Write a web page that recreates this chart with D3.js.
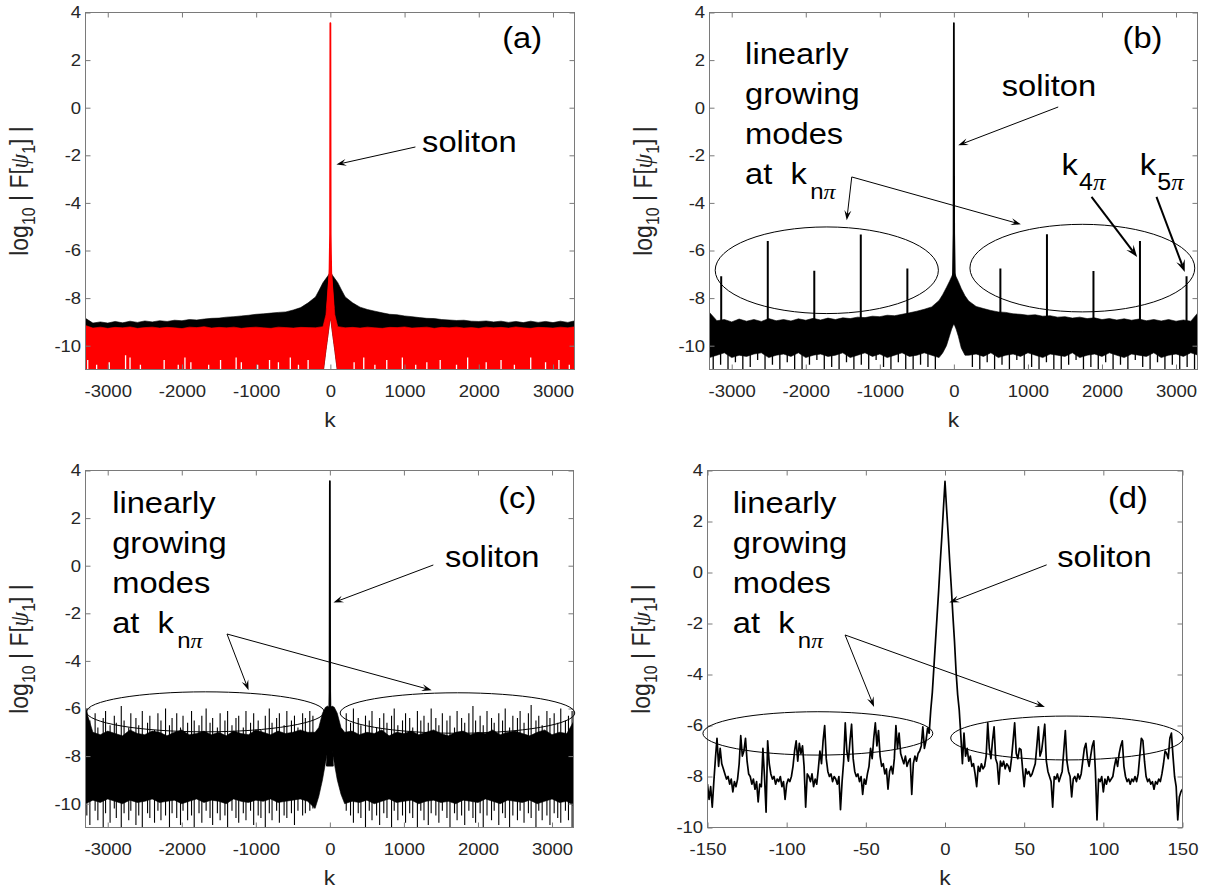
<!DOCTYPE html>
<html>
<head>
<meta charset="utf-8">
<script src="https://cdn.jsdelivr.net/npm/d3@7"></script>
<style>
  body { margin: 0; background: #fff; }
  svg { font-family: "Liberation Sans", Arial, sans-serif; }
</style>
</head>
<body>
<script>
// ---------- data ----------
// shared k sampling of the wide spectra (a)-(c)
const kGrid = [
  -3300,-3200,-3100,-3000,-2900,-2800,-2700,-2600,-2500,-2400,-2300,-2200,-2100,-2000,-1900,-1800,-1700,-1600,-1500,-1400,-1300,-1200,-1100,-1000,-900,-800,-700,-600,-500,-400,-300,
  -200,-150,-100,-60,-30,-10,0,10,30,60,100,150,200,
  300,400,500,600,700,800,900,1000,1100,1200,1300,1400,1500,1600,1700,1800,1900,2000,2100,2200,2300,2400,2500,2600,2700,2800,2900,3000,3100,3200,3300];
// positions halfway between grid samples (used for isolated noise spikes)
const midK = [
  -3250,-3150,-3050,-2950,-2850,-2750,-2650,-2550,-2450,-2350,-2250,-2150,-2050,-1950,-1850,-1750,-1650,-1550,-1450,-1350,-1250,-1150,-1050,-950,-850,-750,-650,-550,-450,-350,-250,
  250,350,450,550,650,750,850,950,1050,1150,1250,1350,1450,1550,1650,1750,1850,1950,2050,2150,2250,2350,2450,2550,2650,2750,2850,2950,3050,3150,3250];

// (a) black and red spectra (upper envelopes), common lower envelope, white gaps at the floor
const aBlackTop = [
  -8.85,-9.05,-9.0,-9.05,-8.98,-9.04,-8.97,-9.02,-8.96,-9.0,-8.95,-8.98,-8.93,-8.95,-8.9,-8.92,-8.88,-8.85,-8.84,-8.8,-8.78,-8.75,-8.72,-8.68,-8.66,-8.63,-8.6,-8.58,-8.5,-8.4,-8.2,
  -7.95,-7.66,-7.35,-7.18,-7.05,-6.95,-6.9,-6.95,-7.05,-7.18,-7.35,-7.66,-7.95,
  -8.2,-8.38,-8.48,-8.55,-8.62,-8.68,-8.7,-8.75,-8.78,-8.82,-8.85,-8.86,-8.9,-8.92,-8.94,-8.93,-8.97,-8.98,-8.96,-9.0,-8.97,-9.02,-8.98,-9.03,-8.97,-9.02,-8.98,-9.03,-8.97,-9.02,-8.95];
const aRedTop = [
  -9.15,-9.26,-9.22,-9.27,-9.23,-9.25,-9.21,-9.27,-9.24,-9.22,-9.26,-9.23,-9.25,-9.28,-9.22,-9.24,-9.2,-9.26,-9.23,-9.25,-9.22,-9.27,-9.24,-9.22,-9.25,-9.27,-9.22,-9.24,-9.26,-9.23,-9.24,
  -9.25,-9.22,-9.2,-8.7,-7.5,-6.7,-6.4,-6.7,-7.5,-8.7,-9.2,-9.22,-9.25,
  -9.23,-9.26,-9.22,-9.25,-9.27,-9.23,-9.24,-9.21,-9.26,-9.24,-9.22,-9.27,-9.23,-9.25,-9.22,-9.26,-9.24,-9.27,-9.22,-9.25,-9.23,-9.26,-9.21,-9.25,-9.27,-9.23,-9.24,-9.26,-9.22,-9.25,-9.2];
const aBottom = [
  -11.3,-11.3,-11.3,-11.3,-11.3,-11.3,-11.3,-11.3,-11.3,-11.3,-11.3,-11.3,-11.3,-11.3,-11.3,-11.3,-11.3,-11.3,-11.3,-11.3,-11.3,-11.3,-11.3,-11.3,-11.3,-11.3,-11.3,-11.3,-11.3,-11.3,-11.3,
  -11.3,-11.3,-11.2,-10.2,-9.5,-9.0,-8.86,-9.0,-9.5,-10.2,-11.2,-11.3,-11.3,
  -11.3,-11.3,-11.3,-11.3,-11.3,-11.3,-11.3,-11.3,-11.3,-11.3,-11.3,-11.3,-11.3,-11.3,-11.3,-11.3,-11.3,-11.3,-11.3,-11.3,-11.3,-11.3,-11.3,-11.3,-11.3,-11.3,-11.3,-11.3,-11.3,-11.3,-11.3];
const aGapK = [
  -3270,-3150,-2980,-2760,-2700,-2560,-2240,-2050,-1960,-1880,
  -1640,-1480,-1270,-1200,-980,-820,-700,-540,-430,-300,
  320,450,600,760,970,1150,1300,1480,1700,1850,
  2100,2300,2480,2700,2900,3080,3220];
const aGapTop = [
  -10.6,-10.8,-10.7,-10.4,-10.5,-10.8,-10.6,-10.8,-10.5,-10.7,
  -10.8,-10.6,-10.5,-10.7,-10.8,-10.6,-10.7,-10.5,-10.8,-10.6,
  -10.7,-10.5,-10.8,-10.6,-10.5,-10.8,-10.7,-10.6,-10.8,-10.5,
  -10.7,-10.6,-10.8,-10.5,-10.7,-10.6,-10.8];

// (b) spectrum envelopes, downward noise spikes and the isolated modes at k = n*pi*200
const bTop = [
  -8.6,-8.95,-8.9,-9.0,-8.88,-8.97,-8.9,-8.98,-8.86,-8.95,-8.9,-8.96,-8.87,-8.93,-8.85,-8.92,-8.84,-8.9,-8.83,-8.86,-8.8,-8.82,-8.76,-8.78,-8.72,-8.74,-8.68,-8.62,-8.55,-8.47,-8.37,
  -8.1,-7.85,-7.55,-7.3,-7.1,-6.95,-6.9,-6.95,-7.1,-7.3,-7.6,-7.9,-8.12,
  -8.35,-8.44,-8.52,-8.58,-8.6,-8.66,-8.68,-8.72,-8.7,-8.76,-8.74,-8.8,-8.78,-8.84,-8.8,-8.86,-8.83,-8.9,-8.86,-8.92,-8.87,-8.93,-8.88,-8.95,-8.9,-8.96,-8.9,-8.97,-8.92,-8.97,-8.6];
const bBottom = [
  -10.5,-10.4,-10.3,-10.5,-10.4,-10.45,-10.35,-10.3,-10.5,-10.4,-10.35,-10.45,-10.3,-10.5,-10.4,-10.35,-10.45,-10.4,-10.3,-10.5,-10.4,-10.3,-10.45,-10.35,-10.5,-10.4,-10.3,-10.45,-10.4,-10.3,-10.4,
  -10.5,-10.3,-10.0,-9.6,-9.3,-9.15,-9.1,-9.15,-9.3,-9.6,-10.1,-10.4,-10.4,
  -10.35,-10.45,-10.3,-10.5,-10.4,-10.35,-10.45,-10.3,-10.4,-10.5,-10.35,-10.4,-10.45,-10.3,-10.5,-10.4,-10.35,-10.45,-10.3,-10.4,-10.5,-10.35,-10.4,-10.45,-10.3,-10.5,-10.4,-10.35,-10.45,-10.3,-10.4];
const bDipBottom = [
  -11.3,-10.8,-11.0,-10.7,-11.3,-10.9,-10.6,-11.2,-10.8,-11.3,-10.7,-11.0,-11.3,-10.8,-10.6,-11.1,-10.9,-11.3,-10.7,-11.0,-10.8,-11.3,-10.6,-10.9,-11.2,-10.7,-11.0,-11.3,-10.8,-10.9,-11.3,
  -10.9,-11.3,-10.7,-11.0,-10.8,-11.3,-10.6,-11.1,-10.9,-11.3,-10.7,-11.0,-11.3,-10.8,-10.6,-11.2,-10.9,-11.3,-10.7,-11.0,-10.8,-11.3,-10.6,-10.9,-11.2,-10.7,-11.3,-10.8,-11.0,-10.9,-11.3];
const bModeK = [-3142,-2513,-1885,-1257,-628,628,1257,1885,2513,3142];
const bModeTop = [-7.08,-5.6,-6.85,-5.33,-6.76,-6.76,-5.32,-6.86,-5.6,-7.08];

// (c) broad noisy spectrum: dense core plus thin spikes above and below it
const cTop = [
  -6.0,-7.0,-7.1,-6.95,-7.05,-7.15,-6.9,-7.05,-7.1,-6.95,-7.0,-7.15,-7.0,-6.9,-7.1,-7.05,-6.95,-7.1,-7.0,-7.15,-6.95,-7.05,-7.1,-6.9,-7.0,-7.1,-6.95,-7.05,-7.0,-6.9,-7.0,
  -7.0,-6.8,-6.2,-5.95,-5.9,-5.95,-6.0,-5.95,-5.9,-5.95,-6.2,-6.8,-7.0,
  -6.95,-7.1,-7.0,-7.05,-6.9,-7.15,-7.0,-7.05,-6.95,-7.1,-7.0,-6.9,-7.05,-7.15,-7.0,-6.95,-7.1,-7.0,-7.05,-6.9,-7.1,-7.0,-6.95,-7.05,-7.15,-7.0,-6.9,-7.1,-7.0,-7.05,-6.5];
const cBottom = [
  -10.0,-9.85,-9.95,-9.8,-9.9,-10.0,-9.85,-9.95,-9.9,-9.8,-9.95,-9.9,-9.85,-10.0,-9.9,-9.8,-9.95,-9.85,-9.9,-10.0,-9.8,-9.9,-9.95,-9.85,-9.9,-9.8,-9.95,-9.9,-9.85,-9.8,-9.9,
  -10.2,-9.7,-9.0,-8.3,-7.8,-7.55,-7.47,-7.55,-7.8,-8.3,-9.0,-9.6,-10.0,
  -9.9,-9.95,-9.85,-10.0,-9.9,-9.8,-9.95,-9.9,-9.85,-10.0,-9.9,-9.85,-9.95,-9.9,-10.0,-9.85,-9.9,-9.95,-9.8,-9.9,-10.0,-9.85,-9.9,-9.95,-9.85,-10.0,-9.9,-9.8,-9.95,-9.9,-10.1];
const cSpikeK = [
  -3282,-3241,-3170,-3133,-3061,-3029,-2968,-2911,-2884,-2817,-2779,-2716,-2688,-2619,-2581,-2533,-2462,-2431,-2368,-2322,-2281,-2219,-2166,-2131,-2068,-2017,-1983,-1921,-1868,-1832,-1767,
  -1729,-1671,-1618,-1583,-1519,-1482,-1417,-1381,-1322,-1268,-1231,-1169,-1133,-1071,-1029,-968,-931,-872,-818,-781,-719,-682,-618,-581,-519,-478,-431,-368,-331,-271,-229,
  221,279,318,383,419,481,532,569,631,672,728,771,833,869,918,981,1022,1078,1119,1182,1228,1271,1329,1368,1431,1472,1519,1581,1622,1683,1718,
  1779,1821,1877,1932,1968,2029,2071,2122,2183,2219,2281,2332,2368,2427,2471,2533,2569,2622,2681,2718,2783,2821,2867,2931,2972,3029,3077,3118,3181,3222,3271];
const cSpikeTop = [
  -6.0,-6.5,-6.2,-6.8,-6.4,-6.1,-6.7,-6.3,-6.6,-5.9,-6.5,-6.8,-6.2,-6.4,-6.7,-6.1,-6.6,-6.3,-6.9,-6.2,
  -6.5,-6.0,-6.7,-6.4,-6.2,-6.8,-6.3,-6.6,-6.1,-6.5,-6.7,-6.3,-6.0,-6.6,-6.4,-6.8,-6.2,-6.5,-6.1,-6.7,
  -6.4,-6.3,-6.8,-6.1,-6.6,-6.2,-6.5,-6.9,-6.3,-6.0,-6.6,-6.4,-6.2,-6.7,-6.1,-6.5,-6.3,-6.8,-6.2,-6.4,
  -6.1,-6.3,
  -6.2,-6.6,-6.0,-6.4,-6.7,-6.3,-6.5,-6.1,-6.8,-6.4,-6.2,-6.6,-6.3,-6.0,-6.7,-6.5,-6.2,-6.4,-6.8,-6.1,
  -6.5,-6.3,-6.6,-6.0,-6.4,-6.7,-6.2,-6.5,-6.3,-6.8,-6.1,-6.4,-6.6,-6.2,-5.9,-6.5,-6.3,-6.7,-6.1,-6.4,
  -6.6,-6.2,-6.5,-6.0,-6.8,-6.3,-6.4,-6.1,-6.6,-6.2,-5.85,-6.5,-6.3,-6.7,-6.1,-6.4,-6.2,-6.6,-6.0,-6.5,
  -6.3,-6.1];
const cSpikeBottom = [
  -10.5,-10.9,-10.3,-10.7,-11.1,-10.4,-10.8,-10.2,-10.6,-11.0,-10.4,-10.7,-10.3,-10.9,-10.5,-11.2,-10.4,-10.6,-10.8,-10.3,
  -10.7,-10.5,-11.0,-10.4,-10.6,-10.9,-10.3,-10.7,-10.5,-11.1,-10.4,-10.8,-10.3,-10.6,-10.9,-10.4,-10.7,-10.5,-11.0,-10.3,
  -10.6,-10.8,-10.4,-10.7,-10.3,-10.9,-10.5,-10.6,-11.1,-10.4,-10.7,-10.3,-10.8,-10.5,-10.6,-10.4,-10.9,-10.3,-10.5,-10.4,
  -10.3,-10.2,
  -10.3,-10.5,-10.8,-10.4,-10.6,-11.0,-10.3,-10.7,-10.5,-10.9,-10.4,-10.6,-11.2,-10.3,-10.7,-10.5,-10.8,-10.4,-10.6,-11.0,
  -10.3,-10.7,-10.9,-10.4,-10.5,-10.8,-10.3,-10.6,-11.1,-10.4,-10.7,-10.5,-10.9,-10.3,-10.6,-10.8,-10.4,-11.0,-10.5,-10.7,
  -10.3,-10.9,-10.4,-10.6,-11.2,-10.5,-10.7,-10.3,-10.8,-10.4,-10.6,-11.0,-10.3,-10.7,-10.5,-10.9,-10.4,-10.6,-10.8,-10.3,
  -10.7,-11.2];

// soliton peak profile in the wide panels
const spikeK = [-40,-12,-4,0,4,12,40];
const spikeV = [-8.4,-7.0,-5.3,3.55,-5.3,-7.0,-8.4];

// (d) zoom on |k| <= 150
const dK = [
  -150,-149,-148,-147,-146,-145,-144,-143,-142,-141,-140,-139,-138,-137,-136,-135,-134,-133,-132,-131,
  -130,-129,-128,-127,-126,-125,-124,-123,-122,-121,-120,-119,-118,-117,-116,-115,-114,-113,-112,-111,
  -110,-109,-108,-107,-106,-105,-104,-103,-102,-101,-100,-99,-98,-97,-96,-95,-94,-93,-92,-91,
  -90,-89,-88,-87,-86,-85,-84,-83,-82,-81,-80,-79,-78,-77,-76,-75,-74,-73,-72,-71,
  -70,-69,-68,-67,-66,-65,-64,-63,-62,-61,-60,-59,-58,-57,-56,-55,-54,-53,-52,-51,
  -50,-49,-48,-47,-46,-45,-44,-43,-42,-41,-40,-39,-38,-37,-36,-35,-34,-33,-32,-31,
  -30,-29,-28,-27,-26,-25,-24,-23,-22,-21,-20,-19,-18,-17,-16,-15,-14,-13,-12,-11,
  -10,-9,-8,-7,-6,-5,-4,-3,-2,-1,0,1,2,3,4,5,6,7,8,9,10,
  11,12,13,14,15,16,17,18,19,20,21,22,23,24,25,26,27,28,29,30,
  31,32,33,34,35,36,37,38,39,40,41,42,43,44,45,46,47,48,49,50,
  51,52,53,54,55,56,57,58,59,60,61,62,63,64,65,66,67,68,69,70,
  71,72,73,74,75,76,77,78,79,80,81,82,83,84,85,86,87,88,89,90,
  91,92,93,94,95,96,97,98,99,100,101,102,103,104,105,106,107,108,109,110,
  111,112,113,114,115,116,117,118,119,120,121,122,123,124,125,126,127,128,129,130,
  131,132,133,134,135,136,137,138,139,140,141,142,143,144,145,146,147,148,149,150];
const dV = [
  -8.3,-8.9,-8.4,-9.2,-8.2,-7.3,-6.5,-7.6,-6.9,-7.5,
  -7.7,-7.9,-8.1,-8.0,-8.3,-8.1,-8.6,-8.2,-8.4,-8.1,
  -7.5,-6.4,-7.2,-7.0,-6.5,-7.4,-7.9,-8.0,-8.3,-8.1,
  -8.5,-8.2,-9.0,-8.3,-8.4,-6.9,-8.0,-9.4,-6.6,-7.5,
  -7.9,-8.1,-8.0,-8.3,-8.1,-8.2,-8.0,-8.4,-8.2,-8.9,
  -8.3,-8.1,-8.2,-8.0,-7.6,-7.0,-6.6,-7.4,-6.7,-7.1,
  -6.8,-7.6,-9.2,-7.9,-8.0,-8.2,-7.9,-8.4,-8.1,-8.3,
  -7.7,-7.0,-7.5,-6.6,-6.0,-7.3,-7.8,-8.0,-7.9,-8.2,
  -8.0,-8.1,-8.3,-8.0,-9.3,-8.2,-7.4,-5.9,-7.0,-7.4,
  -6.6,-5.95,-7.3,-7.8,-8.0,-7.9,-8.2,-8.0,-8.7,-8.1,
  -8.3,-7.9,-7.6,-6.9,-7.3,-6.5,-5.9,-6.8,-6.2,-7.2,
  -7.6,-7.5,-7.9,-7.7,-8.5,-7.8,-7.6,-7.9,-7.3,-6.0,
  -6.9,-6.3,-7.1,-7.3,-7.5,-7.2,-7.6,-7.4,-7.3,-8.7,
  -7.5,-7.2,-7.4,-7.1,-7.0,-6.8,-6.05,-6.9,-6.6,-6.1,
  -6.3,-5.4,-4.7,-3.7,-2.7,-1.7,-0.7,0.4,1.4,2.5,
  3.57,
  2.5,1.5,0.4,-0.6,-1.7,-2.7,-3.9,-4.8,-5.4,-6.4,
  -7.5,-6.3,-7.2,-6.9,-7.4,-7.2,-7.6,-7.5,-7.9,-8.4,
  -7.6,-7.8,-7.5,-7.7,-7.6,-7.2,-5.9,-6.9,-7.3,-6.6,
  -6.05,-7.3,-7.5,-8.3,-7.4,-7.6,-7.4,-7.7,-7.5,-7.6,
  -7.8,-7.3,-6.6,-5.9,-7.1,-7.3,-6.9,-6.95,-7.7,-8.4,
  -7.7,-7.9,-7.8,-8.0,-7.9,-7.7,-7.5,-6.8,-6.05,-7.2,
  -7.0,-6.5,-5.95,-7.4,-7.8,-8.0,-8.2,-9.2,-8.0,-8.1,
  -7.9,-8.2,-8.0,-7.8,-7.0,-6.2,-7.4,-7.8,-8.0,-8.8,
  -8.1,-8.0,-8.2,-7.9,-8.1,-7.9,-7.4,-6.9,-6.7,-7.3,
  -7.6,-7.2,-6.8,-6.6,-7.8,-9.7,-8.1,-8.2,-8.0,-8.6,
  -8.1,-8.3,-8.0,-8.2,-8.1,-8.0,-7.6,-7.3,-7.6,-7.1,
  -6.8,-6.6,-7.6,-8.0,-8.2,-8.1,-8.3,-8.1,-8.2,-8.0,
  -8.2,-7.9,-7.2,-6.5,-6.6,-7.4,-8.0,-8.2,-8.1,-8.3,
  -8.2,-8.5,-8.2,-8.3,-8.1,-8.2,-7.9,-7.5,-7.0,-7.1,
  -7.3,-6.5,-6.3,-7.2,-8.0,-8.4,-9.7,-8.8,-8.6,-8.5];

// ticks
const wideXTicks = [-3000,-2000,-1000,0,1000,2000,3000];
const wideYTicks = [-10,-8,-6,-4,-2,0,2,4];
const dXTicks = [-150,-100,-50,0,50,100,150];
const dYTicks = [-10,-8,-6,-4,-2,0,2,4];

// ---------- drawing ----------
const SX = 1.09;           // lettering in the reference is slightly wide
const AXIS = "#7a7a7a", LABEL = "#262626";

const svg = d3.select("body").append("svg").attr("width", 1207).attr("height", 888);

function txt(parent, px, py, size, anchor) {
  return parent.append("text")
    .attr("transform", `translate(${px},${py}) scale(${SX},1)`)
    .attr("font-size", size)
    .attr("text-anchor", anchor || "start")
    .attr("fill", "#000");
}

function panel(id, box, xDom, yDom, xTicks, yTicks, ylabX) {
  const x = d3.scaleLinear().domain(xDom).range([box.left, box.right]);
  const y = d3.scaleLinear().domain(yDom).range([box.bottom, box.top]);
  const g = svg.append("g");
  svg.append("clipPath").attr("id", "clip-" + id).append("rect")
    .attr("x", box.left).attr("y", box.top)
    .attr("width", box.right - box.left).attr("height", box.bottom - box.top);
  const plot = g.append("g").attr("clip-path", `url(#clip-${id})`);
  const ax = g.append("g");
  const fmt = d => String(d);

  ax.append("g").attr("transform", `translate(0,${box.bottom})`)
    .call(d3.axisBottom(x).tickValues(xTicks).tickFormat(fmt).tickSizeInner(-5).tickSizeOuter(0))
    .call(s => {
      s.select(".domain").remove();
      s.selectAll("line").attr("stroke", AXIS);
      s.selectAll("text").attr("y", 28).attr("dy", null).attr("font-size", 17)
        .attr("fill", LABEL).attr("font-family", null).attr("transform", `scale(${SX},1)`);
    });
  ax.append("g").attr("transform", `translate(0,${box.top})`)
    .call(d3.axisTop(x).tickValues(xTicks).tickSizeInner(-5).tickSizeOuter(0))
    .call(s => { s.select(".domain").remove(); s.selectAll("text").remove(); s.selectAll("line").attr("stroke", AXIS); });
  ax.append("g").attr("transform", `translate(${box.left},0)`)
    .call(d3.axisLeft(y).tickValues(yTicks).tickFormat(fmt).tickSizeInner(-5).tickSizeOuter(0).tickPadding(4))
    .call(s => {
      s.select(".domain").remove();
      s.selectAll("line").attr("stroke", AXIS);
      s.selectAll("text").attr("font-size", 17).attr("fill", LABEL).attr("font-family", null)
        .attr("transform", `scale(${SX},1)`);
    });
  ax.append("g").attr("transform", `translate(${box.right},0)`)
    .call(d3.axisRight(y).tickValues(yTicks).tickSizeInner(-5).tickSizeOuter(0))
    .call(s => { s.select(".domain").remove(); s.selectAll("text").remove(); s.selectAll("line").attr("stroke", AXIS); });
  ax.append("rect")
    .attr("x", box.left).attr("y", box.top)
    .attr("width", box.right - box.left).attr("height", box.bottom - box.top)
    .attr("fill", "none").attr("stroke", AXIS).attr("stroke-width", 1);

  // axis labels
  txt(ax, (box.left + box.right) / 2, box.bottom + 57, 21, "middle").attr("fill", LABEL).text("k");
  const yl = ax.append("text")
    .attr("transform", `translate(${ylabX},${(box.top + box.bottom) / 2}) rotate(-90) scale(1,${SX})`)
    .attr("text-anchor", "middle").attr("font-size", 23).attr("fill", LABEL);
  yl.append("tspan").text("log");
  yl.append("tspan").attr("font-size", 16).attr("dy", 6).text("10");
  yl.append("tspan").attr("dy", -6).text("\u00a0|\u00a0F[");
  yl.append("tspan").attr("font-family", "Liberation Serif").attr("font-style", "italic").text("\u03c8");
  yl.append("tspan").attr("font-size", 16).attr("dy", 6).text("1");
  yl.append("tspan").attr("dy", -6).text("]\u00a0|");

  const ann = g.append("g");
  return { x, y, plot, ann };
}

function band(p, top, bottom, color) {
  const rows = kGrid.map((k, i) => ({ k, t: top[i], b: bottom[i] }));
  p.plot.append("path").datum(rows)
    .attr("d", d3.area().x(d => p.x(d.k)).y0(d => p.y(d.b)).y1(d => p.y(d.t)))
    .attr("fill", color).attr("stroke", color).attr("stroke-width", 0.6);
}

// thin vertical strokes between two value arrays (noise spikes / gaps)
function sticks(p, ks, from, to, color, w) {
  p.plot.append("g").selectAll("line").data(ks).join("line")
    .attr("x1", d => p.x(d)).attr("x2", d => p.x(d))
    .attr("y1", (d, i) => p.y(Array.isArray(from) ? from[i] : from))
    .attr("y2", (d, i) => p.y(Array.isArray(to) ? to[i] : to))
    .attr("stroke", color).attr("stroke-width", w);
}

function spike(p, color) {
  const pts = spikeK.map((k, i) => [p.x(k), p.y(spikeV[i])]);
  p.plot.append("path").attr("d", d3.line()(pts) + "Z")
    .attr("fill", color).attr("stroke", color).attr("stroke-width", 1.8).attr("stroke-linejoin", "round");
}

function arrow(p, from, to, lw, hl, hw) {
  const x1 = p.x(from[0]), y1 = p.y(from[1]), x2 = p.x(to[0]), y2 = p.y(to[1]);
  const a = Math.atan2(y2 - y1, x2 - x1);
  const back = hl * 0.6;
  p.ann.append("line")
    .attr("x1", x1).attr("y1", y1)
    .attr("x2", x2 - Math.cos(a) * back).attr("y2", y2 - Math.sin(a) * back)
    .attr("stroke", "#000").attr("stroke-width", lw);
  const head = [[0, 0], [-hl, hw / 2], [-back, 0], [-hl, -hw / 2]];
  p.ann.append("path").attr("d", d3.line()(head) + "Z")
    .attr("transform", `translate(${x2},${y2}) rotate(${a * 180 / Math.PI})`)
    .attr("fill", "#000");
}

function ellipse(p, k, v, rk, rv) {
  p.ann.append("ellipse")
    .attr("cx", p.x(k)).attr("cy", p.y(v))
    .attr("rx", p.x(k + rk) - p.x(k)).attr("ry", p.y(v - rv) - p.y(v))
    .attr("fill", "none").attr("stroke", "#000").attr("stroke-width", 1);
}

function growing(p, k, v, subDx) {
  const x0 = p.x(k), y0 = p.y(v);
  ["linearly", "growing", "modes"].forEach((s, i) => txt(p.ann, x0, y0 + i * 40, 30).text(s));
  const t = txt(p.ann, x0, y0 + 120, 30);
  t.append("tspan").text("at\u00a0\u00a0k");
  t.append("tspan").attr("dx", subDx).attr("dy", 15).attr("font-size", 22).text("n");
  t.append("tspan").attr("font-size", 22).attr("font-family", "Liberation Serif").attr("font-style", "italic").text("\u03c0");
}

function kSub(p, k, v, n) {
  const t = txt(p.ann, p.x(k), p.y(v), 30);
  t.append("tspan").text("k");
  t.append("tspan").attr("dx", 1).attr("dy", 15).attr("font-size", 23).text(n);
  t.append("tspan").attr("font-size", 23).attr("font-family", "Liberation Serif").attr("font-style", "italic").text("\u03c0");
}

// ----- panel (a)
const A = panel("a", { left: 85.5, right: 574.5, top: 12.5, bottom: 369.5 }, [-3300, 3290], [-11, 4], wideXTicks, wideYTicks, 28);
band(A, aBlackTop, aBottom, "#000");
band(A, aRedTop, aBottom, "#ff0000");
sticks(A, aGapK, -11.3, aGapTop, "#fff", 1.3);
spike(A, "#ff0000");
txt(A.ann, A.x(2315), A.y(2.5), 30).text("(a)");
txt(A.ann, A.x(1236), A.y(-1.86), 30).text("soliton");
arrow(A, [1146, -1.65], [81, -2.39], 1, 10, 7);

// ----- panel (b)
const B = panel("b", { left: 709.5, right: 1197.5, top: 12.5, bottom: 369.5 }, [-3300, 3290], [-11, 4], wideXTicks, wideYTicks, 652);
band(B, bTop, bBottom, "#000");
sticks(B, midK, -10.2, bDipBottom, "#000", 1.3);
sticks(B, bModeK, -9.3, bModeTop, "#000", 2);
spike(B, "#000");
txt(B.ann, B.x(2278), B.y(2.5), 30).text("(b)");
txt(B.ann, B.x(645), B.y(0.48), 30).text("soliton");
arrow(B, [1409, 0.03], [59, -1.58], 1, 10, 7);
growing(B, -2819, 1.83, 3);
arrow(B, [-1379, -2.91], [-1447, -4.73], 1, 10, 7);
arrow(B, [-1379, -2.91], [905, -4.9], 1, 10, 7);
ellipse(B, -1716, -6.83, 1507, 1.82);
ellipse(B, 1735, -6.74, 1518, 1.84);
kSub(B, 1455, -2.84, "4");
kSub(B, 2511, -2.84, "5");
arrow(B, [1859, -3.75], [2475, -6.27], 2, 12, 9);
arrow(B, [2736, -3.75], [3118, -6.9], 2, 12, 9);

// ----- panel (c)
const C = panel("c", { left: 85.5, right: 573.5, top: 470.5, bottom: 827.5 }, [-3300, 3290], [-11, 4], wideXTicks, wideYTicks, 28);
band(C, cTop, cBottom, "#000");
sticks(C, cSpikeK, cSpikeBottom, cSpikeTop, "#000", 1.1);
spike(C, "#000");
txt(C.ann, C.x(2273), C.y(2.43), 30).text("(c)");
txt(C.ann, C.x(1555), C.y(-0.04), 30).text("soliton");
arrow(C, [1397, 0.03], [49, -1.55], 1, 10, 7);
growing(C, -2940, 2.22, 3);
arrow(C, [-1389, -2.87], [-1098, -5.23], 1, 10, 7);
arrow(C, [-1389, -2.87], [1375, -5.23], 1, 10, 7);
ellipse(C, -1682, -6.14, 1605, 0.84);
ellipse(C, 1723, -6.19, 1584, 0.85);

// ----- panel (d)
const D = panel("d", { left: 707.5, right: 1182.5, top: 470.5, bottom: 827.5 }, [-150, 150], [-10, 4], dXTicks, dYTicks, 650);
D.plot.append("path").datum(dK.map((k, i) => [k, dV[i]]))
  .attr("d", d3.line().x(d => D.x(d[0])).y(d => D.y(d[1])))
  .attr("fill", "none").attr("stroke", "#000").attr("stroke-width", 1.7).attr("stroke-linejoin", "round");
txt(D.ann, D.x(102.9), D.y(2.54), 30).text("(d)");
txt(D.ann, D.x(70.9), D.y(0.23), 30).text("soliton");
arrow(D, [64.2, 0.3], [2.7, -1.18], 1, 10, 7);
growing(D, -134, 2.34, 3);
arrow(D, [-63.1, -2.45], [-44.8, -5.27], 1, 10, 7);
arrow(D, [-63.1, -2.45], [63.1, -5.27], 1, 10, 7);
ellipse(D, -80.3, -6.31, 72.6, 0.85);
ellipse(D, 77, -6.49, 73.4, 0.86);
</script>
</body>
</html>
